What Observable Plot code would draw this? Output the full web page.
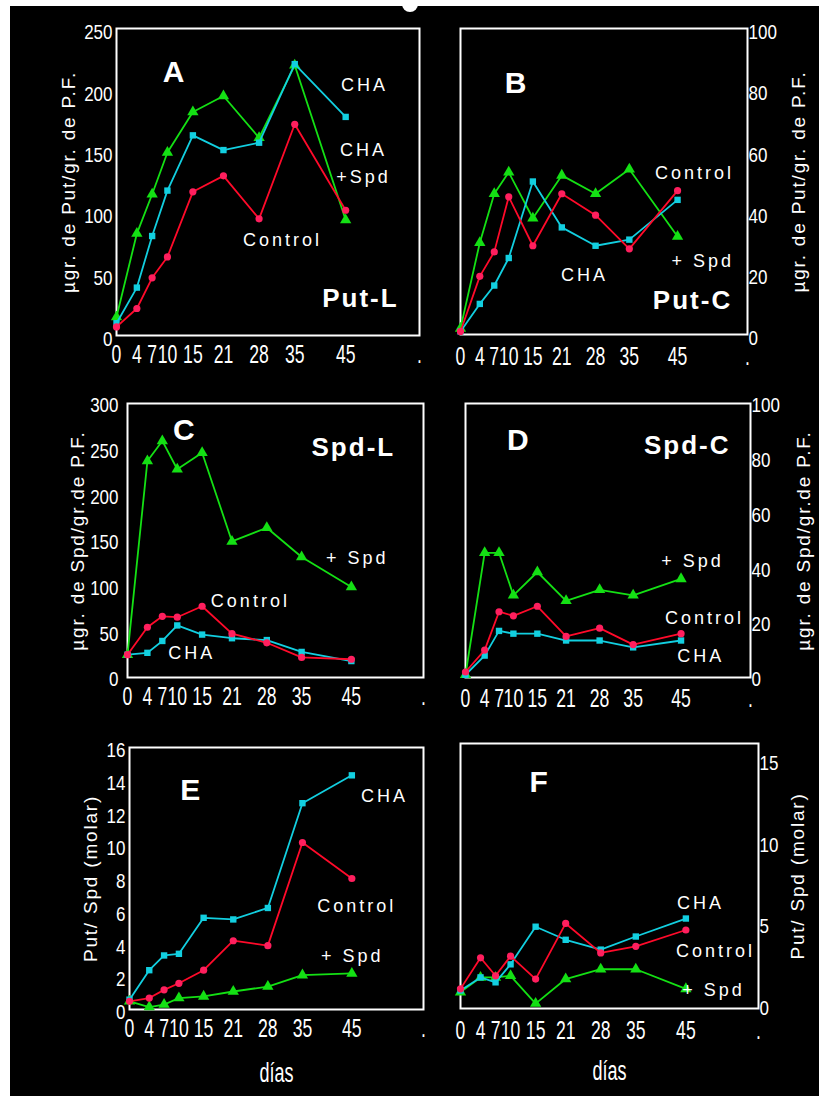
<!DOCTYPE html>
<html>
<head>
<meta charset="utf-8">
<script src="https://cdn.jsdelivr.net/npm/d3@7"></script>
<script src="https://cdn.jsdelivr.net/npm/@observablehq/plot@0.6"></script>
<style>
  html, body { margin: 0; padding: 0; background: #fff; }
  #page { position: relative; width: 819px; height: 1096px; background: #fff; overflow: hidden; }
  #sheet { position: absolute; left: 10px; top: 6px; right: 0; bottom: 0; background: #000; }
  #bump { position: absolute; left: 402px; top: 3px; width: 16px; height: 9px; background: #fff; border-radius: 0 0 8px 8px; }
  #page svg { position: absolute; overflow: visible; }
</style>
</head>
<body>
<div id="page"><div id="sheet"></div><div id="bump"></div></div>
<script>
// Sampling days
const days = [0, 4, 7, 10, 15, 21, 28, 35, 45];

// A — Put, leaves (µg / g fresh weight)
const putL_control = [7, 22, 47, 64, 117, 130, 95, 172, 102];
const putL_cha     = [10, 39, 81, 118, 163, 151, 157, 221, 178];
const putL_chaSpd  = [15, 83, 115, 149, 182, 195, 161, 220, 94];

// B — Put, cotyledons
const putC_control = [1, 19, 27, 45, 29, 46, 39, 28, 47];
const putC_cha     = [1, 10, 16, 25, 50, 35, 29, 31, 44];
const putC_spd     = [2, 30, 46, 53, 38, 52, 46, 54, 32];

// C — Spd, leaves
const spdL_control = [25, 55, 67, 66, 78, 48, 38, 22, 20];
const spdL_cha     = [25, 27, 40, 57, 47, 43, 41, 28, 18];
const spdL_spd     = [25, 237, 259, 228, 246, 149, 164, 132, 99];

// D — Spd, cotyledons
const spdC_control = [2, 10, 24, 22.5, 26, 15, 18, 12, 16];
const spdC_cha     = [1, 8, 17, 16, 16, 13.5, 13.5, 11, 13.5];
const spdC_spd     = [1, 45.5, 45.5, 30, 38.5, 28, 32, 30, 36];

// E — Put/Spd molar ratio, leaves
const ratioL_control = [0.5, 0.7, 1.2, 1.6, 2.4, 4.2, 3.9, 10.2, 8.0];
const ratioL_cha     = [0.6, 2.4, 3.3, 3.4, 5.6, 5.5, 6.2, 12.6, 14.3];
const ratioL_spd     = [0.5, 0.15, 0.3, 0.7, 0.8, 1.1, 1.4, 2.1, 2.2];

// F — Put/Spd molar ratio, cotyledons
const ratioC_control = [1.2, 3.1, 2.0, 3.2, 1.8, 5.2, 3.4, 3.8, 4.8];
const ratioC_cha     = [1.1, 1.9, 1.6, 2.7, 5.0, 4.2, 3.6, 4.4, 5.5];
const ratioC_spd     = [1.0, 1.9, 1.9, 2.0, 0.3, 1.8, 2.4, 2.4, 1.2];

// Tick values
const yTicksA = [0, 50, 100, 150, 200, 250];
const yTicksB = [0, 20, 40, 60, 80, 100];
const yTicksC = [0, 50, 100, 150, 200, 250, 300];
const yTicksE = [0, 2, 4, 6, 8, 10, 12, 14, 16];
const yTicksF = [0, 5, 10, 15];
const xEnd = 59.5;

const GREEN = "#14e014", CYAN = "#12cfe0", RED = "#ff0a2a", RED_DOT = "#ff1f5e";
const SANS = "'Liberation Sans', Arial, Helvetica, sans-serif";

// Font sizes double as hooks for the post-render text styling below
const FS_XTICK = 22, FS_YTICK = 20, FS_LABEL = 18, FS_YTITLE = 19, FS_TAG = 26, FS_XTITLE = 24, FS_LETTER = 30;

function rows(values) { return days.map((d, i) => ({day: d, value: values[i]})); }

const panels = [
  {
    frame: [116, 419, 28, 335], side: "left", yDomain: [0, 250], yTicks: yTicksA,
    xPad: 10, yPad: 4, yDy: 4, yTitle: "µgr. de Put/gr. de P.F.", yTitleDx: -48,
    series: [
      {v: putL_chaSpd, c: GREEN, s: "triangle"},
      {v: putL_cha, c: CYAN, s: "square"},
      {v: putL_control, c: RED, d: RED_DOT, s: "circle"}
    ],
    letter: {t: "A", x: 11.2, y: 214}, tag: {t: "Put-L", x: 47.9, y: 30},
    labels: [
      {t: "CHA", x: 48.7, y: 206}, {t: "CHA\n+Spd", x: 48.5, y: 142}, {t: "Control", x: 32.6, y: 80}
    ]
  },
  {
    frame: [460, 747, 28, 334], side: "right", yDomain: [0, 100], yTicks: yTicksB,
    xPad: 13, yPad: 1, yDy: 4, yTitle: "µgr. de Put/gr. de P.F.", yTitleDx: 51,
    series: [
      {v: putC_spd, c: GREEN, s: "triangle"},
      {v: putC_cha, c: CYAN, s: "square"},
      {v: putC_control, c: RED, d: RED_DOT, s: "circle"}
    ],
    letter: {t: "B", x: 11.4, y: 82}, tag: {t: "Put-C", x: 48.1, y: 11},
    labels: [
      {t: "Control", x: 48.5, y: 53.6}, {t: "+ Spd", x: 50.2, y: 24.8}, {t: "CHA", x: 25.7, y: 20.3}
    ]
  },
  {
    frame: [127, 423, 403, 677], side: "left", yDomain: [0, 300], yTicks: yTicksC,
    xPad: 10, yPad: 9, yDy: 2, yTitle: "µgr. de Spd/gr.de P.F.", yTitleDx: -50,
    series: [
      {v: spdL_spd, c: GREEN, s: "triangle"},
      {v: spdL_cha, c: CYAN, s: "square"},
      {v: spdL_control, c: RED, d: RED_DOT, s: "circle"}
    ],
    letter: {t: "C", x: 11.3, y: 270.5}, tag: {t: "Spd-L", x: 45.4, y: 252},
    labels: [
      {t: "+ Spd", x: 46.2, y: 133.6}, {t: "Control", x: 24.7, y: 86.5}, {t: "CHA", x: 12.9, y: 29.6}
    ]
  },
  {
    frame: [465, 750, 403, 677], side: "right", yDomain: [0, 100], yTicks: yTicksB,
    xPad: 12, yPad: 1, yDy: 2, yTitle: "µgr. de Spd/gr.de P.F.", yTitleDx: 53,
    series: [
      {v: spdC_spd, c: GREEN, s: "triangle"},
      {v: spdC_cha, c: CYAN, s: "square"},
      {v: spdC_control, c: RED, d: RED_DOT, s: "circle"}
    ],
    letter: {t: "D", x: 10.9, y: 86.5}, tag: {t: "Spd-C", x: 46.3, y: 84.7},
    labels: [
      {t: "+ Spd", x: 47.4, y: 43.4}, {t: "Control", x: 49.9, y: 22.6}, {t: "CHA", x: 49.1, y: 8.8}
    ]
  },
  {
    frame: [129, 423, 747, 1009], side: "left", yDomain: [0, 16], yTicks: yTicksE,
    xPad: 10, yPad: 4, yDy: 3, yTitle: "Put/ Spd (molar)", yTitleDx: -39, xTitle: "días", xTitleDy: 72,
    series: [
      {v: ratioL_spd, c: GREEN, s: "triangle"},
      {v: ratioL_cha, c: CYAN, s: "square"},
      {v: ratioL_control, c: RED, d: RED_DOT, s: "circle"}
    ],
    letter: {t: "E", x: 12.3, y: 13.4},
    labels: [
      {t: "CHA", x: 51.6, y: 13.2}, {t: "Control", x: 46, y: 6.5}, {t: "+ Spd", x: 45.1, y: 3.4}
    ]
  },
  {
    frame: [460, 758, 743, 1008], side: "right", yDomain: [0, 16.2], yTicks: yTicksF,
    xPad: 13, yPad: 1, yDy: 0, yTitle: "Put/ Spd (molar)", yTitleDx: 39, xTitle: "días", xTitleDy: 71,
    series: [
      {v: ratioC_spd, c: GREEN, s: "triangle"},
      {v: ratioC_cha, c: CYAN, s: "square"},
      {v: ratioC_control, c: RED, d: RED_DOT, s: "circle"}
    ],
    letter: {t: "F", x: 15.6, y: 13.8},
    labels: [
      {t: "CHA", x: 47.9, y: 6.6}, {t: "Control", x: 50.9, y: 3.7}, {t: "+ Spd", x: 50.5, y: 1.3}
    ]
  }
];

// Groups whose constant font-size equals fs
function groupsBySize(svg, fs) {
  return d3.select(svg).selectAll("g").filter(function() {
    return parseFloat(this.getAttribute("font-size")) === fs;
  });
}

// Narrow/stretch each text around its own anchor point
function squeeze(groups, sx, sy) {
  groups.selectAll("text").each(function() {
    const t = this.getAttribute("transform");
    if (t) {
      this.setAttribute("transform", `${t} scale(${sx},${sy})`);
    } else {
      const x = +this.getAttribute("x") || 0, y = +this.getAttribute("y") || 0;
      this.setAttribute("transform", `translate(${x},${y}) scale(${sx},${sy}) translate(${-x},${-y})`);
    }
  });
}

const page = document.getElementById("page");

for (const p of panels) {
  const [x0, x1, y0, y1] = p.frame;
  const mL = p.side === "left" ? x0 - 10 : 20;
  const mR = p.side === "left" ? 10 : 819 - x1;
  const mT = 16;
  const mB = p.xTitle ? 90 : 40;
  const width = (x1 - x0) + mL + mR;
  const height = (y1 - y0) + mT + mB;

  const marks = [
    Plot.frame({stroke: "white", strokeWidth: 2}),
    Plot.axisX({
      ticks: [...days, xEnd], tickFormat: d => d === xEnd ? "." : String(d),
      tickSize: 0, tickPadding: p.xPad, fontSize: FS_XTICK, fontFamily: SANS, label: null
    }),
    Plot.axisY({
      anchor: p.side, ticks: p.yTicks, tickSize: 0, tickPadding: p.yPad, dy: p.yDy,
      fontSize: FS_YTICK, fontFamily: SANS, label: null
    })
  ];

  for (const s of p.series) {
    const data = rows(s.v);
    marks.push(Plot.line(data, {x: "day", y: "value", stroke: s.c, strokeWidth: 1.8}));
    marks.push(Plot.dot(data, {x: "day", y: "value", fill: s.d || s.c, symbol: s.s, r: s.s === "triangle" ? 4.2 : 3.6}));
  }

  marks.push(Plot.text([p.yTitle], {
    text: d => d, frameAnchor: p.side, dx: p.yTitleDx, rotate: -90, textAnchor: "middle",
    fill: "white", fontSize: FS_YTITLE, fontFamily: SANS
  }));
  if (p.xTitle) {
    marks.push(Plot.text([p.xTitle], {
      text: d => d, frameAnchor: "bottom", dy: p.xTitleDy, textAnchor: "middle",
      fill: "white", fontSize: FS_XTITLE, fontFamily: SANS
    }));
  }
  marks.push(Plot.text([p.letter], {
    x: "x", y: "y", text: "t", fill: "white", fontSize: FS_LETTER, fontWeight: "bold", fontFamily: SANS
  }));
  if (p.tag) {
    marks.push(Plot.text([p.tag], {
      x: "x", y: "y", text: "t", fill: "white", fontSize: FS_TAG, fontWeight: "bold", fontFamily: SANS
    }));
  }
  marks.push(Plot.text(p.labels, {
    x: "x", y: "y", text: "t", fill: "white", fontSize: FS_LABEL, fontFamily: SANS, lineHeight: 1.5
  }));

  const chart = Plot.plot({
    width, height,
    marginLeft: mL, marginRight: mR, marginTop: mT, marginBottom: mB,
    style: {background: "transparent", color: "white", overflow: "visible"},
    x: {domain: [0, xEnd], label: null},
    y: {domain: p.yDomain, label: null},
    marks
  });
  chart.style.left = (x0 - mL) + "px";
  chart.style.top = (y0 - mT) + "px";

  // Tall, narrow tick numerals and spaced-out annotation lettering
  squeeze(groupsBySize(chart, FS_XTICK), 0.8, 1.15);
  squeeze(groupsBySize(chart, FS_YTICK), 0.85, 1.05);
  squeeze(groupsBySize(chart, FS_XTITLE), 0.75, 1.15);
  groupsBySize(chart, FS_LABEL).style("letter-spacing", "3px");
  groupsBySize(chart, FS_YTITLE).style("letter-spacing", "1.8px");
  groupsBySize(chart, FS_TAG).style("letter-spacing", "2px");

  page.appendChild(chart);
}
</script>
</body>
</html>
